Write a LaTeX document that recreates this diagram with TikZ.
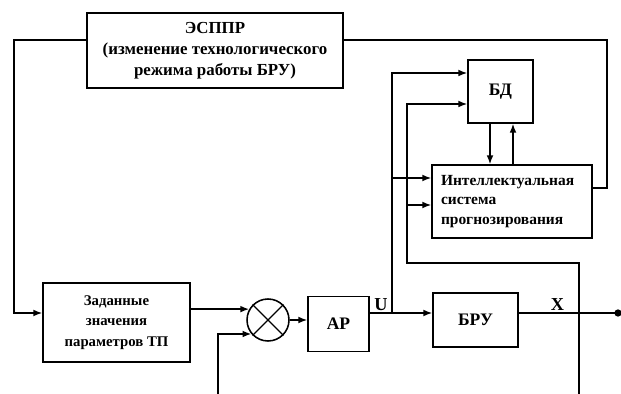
\documentclass[tikz,border=0pt]{standalone}
\usepackage{fontspec}
\setmainfont{Liberation Serif}
\usepackage{tikz}
\usetikzlibrary{arrows.meta, positioning, calc}

\begin{document}
\begin{tikzpicture}[
    font=\fontsize{11}{14}\selectfont\bfseries,
    box/.style={rectangle, draw=black, line width=1.2pt, fill=white, align=center, inner sep=3pt},
    sumnode/.style={circle, draw=black, line width=1.1pt, minimum size=1.05cm, inner sep=0pt},
    arr/.style={-{Latex[length=2.2mm, width=1.7mm]}, line width=1pt},
    ln/.style={line width=1pt},
    lbl/.style={inner sep=1pt, font=\fontsize{13}{15}\selectfont\bfseries},
    big/.style={font=\fontsize{12.5}{15}\selectfont\bfseries},
]
\useasboundingbox (0,0) rectangle (15.525,-9.85);

% --- Blocks ---
\node[box, minimum width=6.4cm, minimum height=1.875cm, font=\fontsize{12}{15}\selectfont\bfseries] (esppr) at (5.375,-1.2625)
    {ЭСППР\\(изменение технологического\\режима работы БРУ)};
\node[box, big, minimum width=1.625cm, minimum height=1.575cm] (bd) at (12.5125,-2.2875) {БД};
\node[box, minimum width=4cm, minimum height=1.825cm, align=left, text width=3.55cm] (isp) at (12.8,-5.0375)
    {Интеллектуальная\\система\\прогнозирования};
\node[box, minimum width=3.675cm, minimum height=1.975cm, font=\fontsize{10.5}{14.5}\selectfont\bfseries] (zad) at (2.9125,-8.0625)
    {Заданные\\значения\\параметров ТП};
\node[sumnode] (sum) at (6.7,-8.0) {};
\draw[line width=1pt] (sum.45) -- (sum.225) (sum.135) -- (sum.315);
\node[box, big, minimum width=1.525cm, minimum height=1.375cm] (ar)  at (8.4625,-8.1) {АР};
\node[box, big, minimum width=2.125cm, minimum height=1.35cm]  (bru) at (11.8875,-8.0) {БРУ};

% --- Helper coordinates ---
\coordinate (uline) at (0,-7.825);
\coordinate (tl)    at (0.35,-1.0);
\coordinate (tr)    at (15.175,-1.0);
\coordinate (ujn)   at (9.8,-7.825);
\coordinate (fb)    at (10.175,-6.575);
\coordinate (fbr)   at (14.475,-9.85);
\coordinate (fbin)  at (5.45,-9.85);
\coordinate (xout)  at (15.45,-7.825);

% --- Main chain ---
\draw[arr] (zad.east |- sum.150) -- (sum.150);
\draw[arr] (fbin) |- (sum.220);
\draw[arr] (sum.east) -- (sum.east -| ar.west);
\draw[arr] (ar.east |- uline) -- node[lbl, above, pos=0.18]{U} (bru.west |- uline);
\draw[ln] (bru.east |- uline) -- node[lbl, above, pos=0.39]{X} (xout);
\fill (xout) circle (2.6pt);

% --- ESPPR loop ---
\draw[arr] (tl -| esppr.west) -- (tl) |- (zad.west |- uline);
\draw[ln] (tr -| esppr.east) -- (tr) |- (isp.east |- 0,-4.7);

% --- Signals to BD and prediction system ---
\draw[arr] (ujn) |- (bd.west |- 0,-1.825);
\draw[arr] (ujn |- 0,-4.45) -- (isp.west |- 0,-4.45);
\draw[arr] (fbr) |- (fb) |- (bd.west |- 0,-2.6);
\draw[arr] (fb |- 0,-5.125) -- (isp.west |- 0,-5.125);

% --- BD <-> prediction system ---
\draw[arr] (bd.south -| 12.25,0) -- (isp.north -| 12.25,0);
\draw[arr] (isp.north -| 12.825,0) -- (bd.south -| 12.825,0);
\end{tikzpicture}
\end{document}
